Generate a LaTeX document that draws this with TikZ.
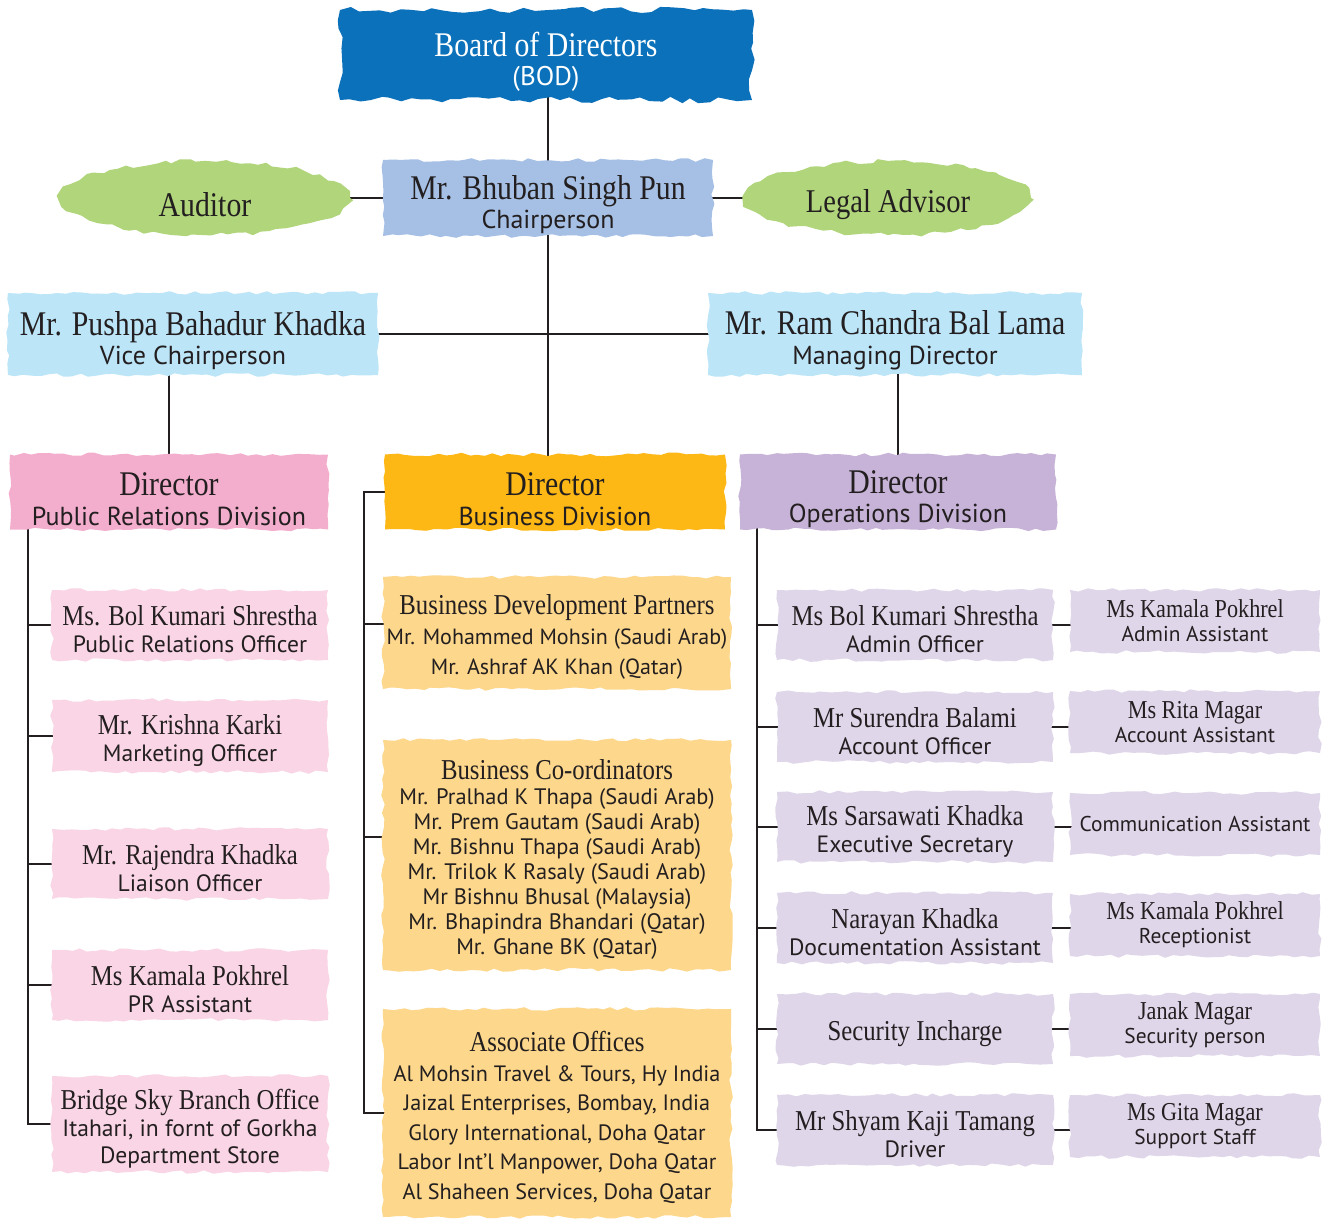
\documentclass[tikz,border=0pt]{standalone}
\usepackage{fontspec}
\setmainfont{PT Sans}
\newfontfamily\namefont[FakeStretch=0.86]{Liberation Serif}
\usetikzlibrary{shapes.geometric,decorations.pathmorphing}
\definecolor{ink}{HTML}{231F20}
\definecolor{bodblue}{HTML}{0B71BA}
\definecolor{chairblue}{HTML}{A5C0E4}
\definecolor{leaf}{HTML}{B0D57A}
\definecolor{sky}{HTML}{BCE5F8}
\definecolor{rose}{HTML}{F4AECD}
\definecolor{amber}{HTML}{FDB815}
\definecolor{lilac}{HTML}{C7B3D7}
\definecolor{blush}{HTML}{F9D5E5}
\definecolor{sand}{HTML}{FDD78B}
\definecolor{mist}{HTML}{E0D6EA}
\newcommand\nameA[1]{{\namefont\fontsize{17.3}{17.3}\selectfont\rule{0pt}{18.5pt}#1}}
\newcommand\nameB[1]{{\namefont\fontsize{14.4}{14.4}\selectfont\rule{0pt}{14.4pt}#1}}
\newcommand\nameC[1]{{\namefont\fontsize{12.9}{12.9}\selectfont #1}}
\pgfdeclarelayer{bg}
\pgfsetlayers{bg,main}
\begin{document}
\begin{tikzpicture}[x=0.5pt, y=-0.5pt,
    box/.style={rectangle, inner sep=0pt, align=center, text=ink,
      decorate, decoration={random steps, segment length=4pt, amplitude=0.9pt}},
    blob/.style={ellipse, inner sep=0pt, align=center, text=ink, fill=leaf,
      minimum width=145pt, minimum height=37pt,
      decorate, decoration={random steps, segment length=4pt, amplitude=1.2pt}},
    top/.style={box, font=\fontsize{13}{14.8}\selectfont},
    head/.style={top, minimum width=#1, minimum height=37.5pt},
    sub/.style={box, fill=blush, minimum width=138pt, minimum height=35pt,
      font=\fontsize{11.8}{13.5}\selectfont},
    mid/.style={box, fill=sand, minimum width=174pt},
    ops/.style={box, fill=mist, minimum width=138pt, minimum height=35pt,
      font=\fontsize{11.8}{13.5}\selectfont},
    aid/.style={box, fill=mist, minimum width=125pt, minimum height=31pt,
      font=\fontsize{10.7}{12}\selectfont},
    link/.style={draw=ink, line width=1.25pt, shorten <=-2pt},
    both/.style={link, shorten >=-2pt}]
    \pgfmathsetseed{7}
    \useasboundingbox (0,0) rectangle (1324,1220);

    \node[top, fill=bodblue, text=white, minimum width=206pt, minimum height=45pt,
      decoration={random steps, segment length=5pt, amplitude=1.6pt},
      font=\fontsize{13.5}{14.5}\selectfont] (BOD) at (546,55)
      {\nameA{Board of Directors}\\(BOD)};
    \node[top, fill=chairblue, minimum width=165pt, minimum height=38pt] (CH) at (548,198)
      {\nameA{Mr. Bhuban Singh Pun}\\Chairperson};
    \node[blob] (AU) at (205,198) {\nameA{Auditor}};
    \node[blob, minimum width=143pt] (LA) at (888,198)
      {{\namefont\fontsize{16.6}{16.6}\selectfont\rule{0pt}{18.5pt}Legal Advisor}};
    \node[top, fill=sky, minimum width=185pt, minimum height=41pt] (VC) at (193,334)
      {\nameA{Mr. Pushpa Bahadur Khadka}\\Vice Chairperson};
    \node[top, fill=sky, minimum width=187pt, minimum height=41pt] (MD) at (895,334)
      {\nameA{Mr. Ram Chandra Bal Lama}\\Managing Director};

    \node[head=159pt, fill=rose] (PR) at (169,492) {\nameA{Director}\\Public Relations Division};
    \node[head=170pt, fill=amber] (BD) at (555,492) {\nameA{Director}\\Business Division};
    \node[head=158pt, fill=lilac] (OD) at (898,492) {\nameA{Director}\\Operations Division};

    \node[sub] (P1) at (190,625) {\nameB{Ms. Bol Kumari Shrestha}\\Public Relations Officer};
    \node[sub, minimum height=36pt] (P2) at (190,736) {\nameB{Mr. Krishna Karki}\\Marketing Officer};
    \node[sub] (P3) at (190,864) {\nameB{Mr. Rajendra Khadka}\\Liaison Officer};
    \node[sub] (P4) at (190,985) {\nameB{Ms Kamala Pokhrel}\\PR Assistant};
    \node[sub, minimum height=48pt] (P5) at (190,1124)
      {\nameB{Bridge Sky Branch Office}\\Itahari, in fornt of Gorkha\\Department Store};

    \node[mid, minimum height=56pt, font=\fontsize{11}{15}\selectfont] (B1) at (557,633)
      {\nameB{Business Development Partners}\\Mr. Mohammed Mohsin (Saudi Arab)\\Mr. Ashraf AK Khan (Qatar)};
    \node[mid, minimum height=115pt, font=\fontsize{11.2}{12.5}\selectfont] (B2) at (557,855)
      {\nameB{Business Co-ordinators}\\Mr. Pralhad K Thapa (Saudi Arab)\\Mr. Prem Gautam (Saudi Arab)\\
       Mr. Bishnu Thapa (Saudi Arab)\\Mr. Trilok K Rasaly (Saudi Arab)\\Mr Bishnu Bhusal (Malaysia)\\
       Mr. Bhapindra Bhandari (Qatar)\\Mr. Ghane BK (Qatar)};
    \node[mid, minimum height=104pt, font=\fontsize{11.1}{14.75}\selectfont] (B3) at (557,1113)
      {\nameB{Associate Offices}\\Al Mohsin Travel \& Tours, Hy India\\Jaizal Enterprises, Bombay, India\\
       Glory International, Doha Qatar\\Labor Int'l Manpower, Doha Qatar\\Al Shaheen Services, Doha Qatar};

    \node[ops] (O1) at (915,625) {\nameB{Ms Bol Kumari Shrestha}\\Admin Officer};
    \node[ops] (O2) at (915,727) {\nameB{Mr Surendra Balami}\\Account Officer};
    \node[ops] (O3) at (915,827) {\nameB{Ms Sarsawati Khadka}\\Executive Secretary};
    \node[ops] (O4) at (915,928) {\nameB{Narayan Khadka}\\Documentation Assistant};
    \node[ops] (O5) at (915,1029) {\nameB{Security Incharge}};
    \node[ops] (O6) at (915,1130) {\nameB{Mr Shyam Kaji Tamang}\\Driver};

    \node[aid] (A1) at (1195,621) {\nameC{Ms Kamala Pokhrel}\\Admin Assistant};
    \node[aid] (A2) at (1195,722) {\nameC{Ms Rita Magar}\\Account Assistant};
    \node[aid] (A3) at (1195,824) {Communication Assistant};
    \node[aid] (A4) at (1195,925) {\nameC{Ms Kamala Pokhrel}\\Receptionist};
    \node[aid] (A5) at (1195,1025) {\nameC{Janak Magar}\\Security person};
    \node[aid] (A6) at (1195,1126) {\nameC{Ms Gita Magar}\\Support Staff};

    \coordinate (PL) at (28,1124);
    \coordinate (BL) at (364,1113);
    \coordinate (OL) at (757,1130);

    \begin{pgfonlayer}{bg}
    \fill[white] (0,0) rectangle (1324,1220);
    \draw[both] (CH.north) -- (CH.north |- BOD.south);
    \draw[both] (CH.south) -- (CH.south |- BD.north);
    \draw[both] (CH.west) -- (CH.west -| AU.east);
    \draw[both] (CH.east) -- (CH.east -| LA.west);
    \draw[both] (VC.east) -- (MD.west);
    \draw[both] (PR.north) -- (PR.north |- VC.south);
    \draw[both] (OD.north) -- (OD.north |- MD.south);
    \draw[both] (PR.south -| PL) -- (PL) -- (P5.west);
    \draw[link] (P1.west) -- (P1.west -| PL);
    \draw[link] (P2.west) -- (P2.west -| PL);
    \draw[link] (P3.west) -- (P3.west -| PL);
    \draw[link] (P4.west) -- (P4.west -| PL);
    \draw[both] (BD.west) -| (BL) -- (B3.west);
    \draw[link] ([yshift=4.5pt]B1.west) -- ([yshift=4.5pt]B1.west -| BL);
    \draw[link] ([yshift=9pt]B2.west) -- ([yshift=9pt]B2.west -| BL);
    \draw[both] (OD.south -| OL) -- (OL) -- (O6.west);
    \draw[link] (O1.west) -- (O1.west -| OL);
    \draw[link] (O2.west) -- (O2.west -| OL);
    \draw[link] (O3.west) -- (O3.west -| OL);
    \draw[link] (O4.west) -- (O4.west -| OL);
    \draw[link] (O5.west) -- (O5.west -| OL);
    \draw[both] (O1.east) -- (O1.east -| A1.west);
    \draw[both] (O2.east) -- (O2.east -| A2.west);
    \draw[both] (O3.east) -- (O3.east -| A3.west);
    \draw[both] (O4.east) -- (O4.east -| A4.west);
    \draw[both] (O5.east) -- (O5.east -| A5.west);
    \draw[both] (O6.east) -- (O6.east -| A6.west);
    \end{pgfonlayer}
\end{tikzpicture}
\end{document}
